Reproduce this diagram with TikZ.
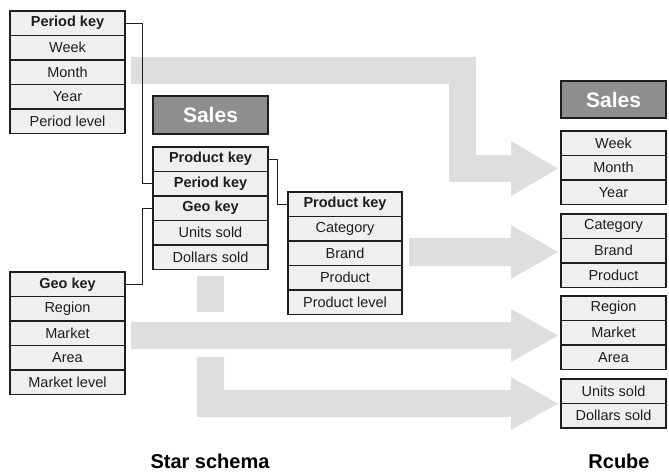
\documentclass[tikz,border=0pt]{standalone}
\usepackage{fontspec}
\setmainfont{Liberation Sans}
\usetikzlibrary{positioning}
\definecolor{flowgray}{HTML}{DEDEDE}
\definecolor{cellgray}{HTML}{EFEFEF}
\definecolor{headgray}{HTML}{8E8E8E}
\definecolor{inkgray}{HTML}{1E1E1E}
\tikzset{
  cell/.style={draw=inkgray, line width=1.1pt, fill=cellgray, inner sep=0pt,
    outer sep=0pt, minimum height=24.5pt, text=inkgray,
    font=\fontsize{14.5}{16}\selectfont},
  keycell/.style={cell, font=\fontsize{14.5}{16}\selectfont\bfseries},
  wideL/.style={minimum width=115pt},
  wideR/.style={minimum width=105pt},
  header/.style={draw=inkgray, line width=1.1pt, fill=headgray, inner sep=0pt,
    outer sep=0pt, text=white, font=\fontsize{21}{24}\selectfont\bfseries},
  link/.style={draw=inkgray, line width=0.9pt},
  flow/.style={fill=flowgray, draw=none},
  caption/.style={font=\fontsize{20}{24}\selectfont\bfseries, text=black},
}
\begin{document}
\begin{tikzpicture}[x=1pt,y=-1pt]
\useasboundingbox (0,0) rectangle (669,473);

% broad gray flow arrows (drawn first, lines go over them)
\fill[flow] (131,57) -- (476,57) -- (476,155) -- (511,155) -- (511,141)
  -- (558,168.5) -- (511,196) -- (511,182) -- (449,182) -- (449,84)
  -- (131,84) -- cycle;
\fill[flow] (409,238) -- (511,238) -- (511,225) -- (558,252) -- (511,279)
  -- (511,266) -- (409,266) -- cycle;
\fill[flow] (131,322) -- (511,322) -- (511,309) -- (558,335.5) -- (511,362)
  -- (511,349) -- (131,349) -- cycle;
\fill[flow] (197,276) rectangle (224,312);
\fill[flow] (197,357) -- (224,357) -- (224,390) -- (511,390) -- (511,377)
  -- (558,403.5) -- (511,430) -- (511,417) -- (197,417) -- cycle;

% period dimension
\node[keycell, wideL, anchor=north west] (per1) at (10,11) {Period key};
\node[cell, wideL, below=0pt of per1] (per2) {Week};
\node[cell, wideL, below=0pt of per2] (per3) {Month};
\node[cell, wideL, below=0pt of per3] (per4) {Year};
\node[cell, wideL, below=0pt of per4] (per5) {Period level};

% fact table
\node[header, minimum width=115pt, minimum height=38pt, anchor=north west] (hdrL) at (153,96) {Sales};
\node[keycell, wideL, anchor=north west] (fct1) at (153,147) {Product key};
\node[keycell, wideL, below=0pt of fct1] (fct2) {Period key};
\node[keycell, wideL, below=0pt of fct2] (fct3) {Geo key};
\node[cell, wideL, below=0pt of fct3] (fct4) {Units sold};
\node[cell, wideL, below=0pt of fct4] (fct5) {Dollars sold};

% product dimension
\node[keycell, minimum width=114pt, anchor=north west] (prd1) at (288,192) {Product key};
\node[cell, minimum width=114pt, below=0pt of prd1] (prd2) {Category};
\node[cell, minimum width=114pt, below=0pt of prd2] (prd3) {Brand};
\node[cell, minimum width=114pt, below=0pt of prd3] (prd4) {Product};
\node[cell, minimum width=114pt, below=0pt of prd4] (prd5) {Product level};

% geography dimension
\node[keycell, wideL, anchor=north west] (geo1) at (10,272) {Geo key};
\node[cell, wideL, below=0pt of geo1] (geo2) {Region};
\node[cell, wideL, below=0pt of geo2] (geo3) {Market};
\node[cell, wideL, below=0pt of geo3] (geo4) {Area};
\node[cell, wideL, below=0pt of geo4] (geo5) {Market level};

% key links
\draw[link] (per1.east) -- ++(17,0) |- (fct2.west);
\draw[link] (fct1.east) -- ++(9,0) |- (prd1.west);
\draw[link] (fct3.west) -- ++(-11,0) |- (geo1.east);

% Rcube side
\node[header, minimum width=105pt, minimum height=37pt, anchor=north west] (hdrR) at (561,81) {Sales};
\node[cell, wideR, anchor=north west] (rper1) at (561,131) {Week};
\node[cell, wideR, below=0pt of rper1] (rper2) {Month};
\node[cell, wideR, below=0pt of rper2] (rper3) {Year};

\node[cell, wideR, anchor=north west] (rprd1) at (561,214) {Category};
\node[cell, wideR, below=0pt of rprd1] (rprd2) {Brand};
\node[cell, wideR, below=0pt of rprd2] (rprd3) {Product};

\node[cell, wideR, anchor=north west] (rgeo1) at (561,296) {Region};
\node[cell, wideR, below=0pt of rgeo1] (rgeo2) {Market};
\node[cell, wideR, below=0pt of rgeo2] (rgeo3) {Area};

\node[cell, wideR, anchor=north west] (rmea1) at (561,379) {Units sold};
\node[cell, wideR, below=0pt of rmea1] (rmea2) {Dollars sold};

% captions
\node[caption] (capL) at (210,461) {Star schema};
\node[caption] (capR) at (619,461) {Rcube};
\end{tikzpicture}
\end{document}
